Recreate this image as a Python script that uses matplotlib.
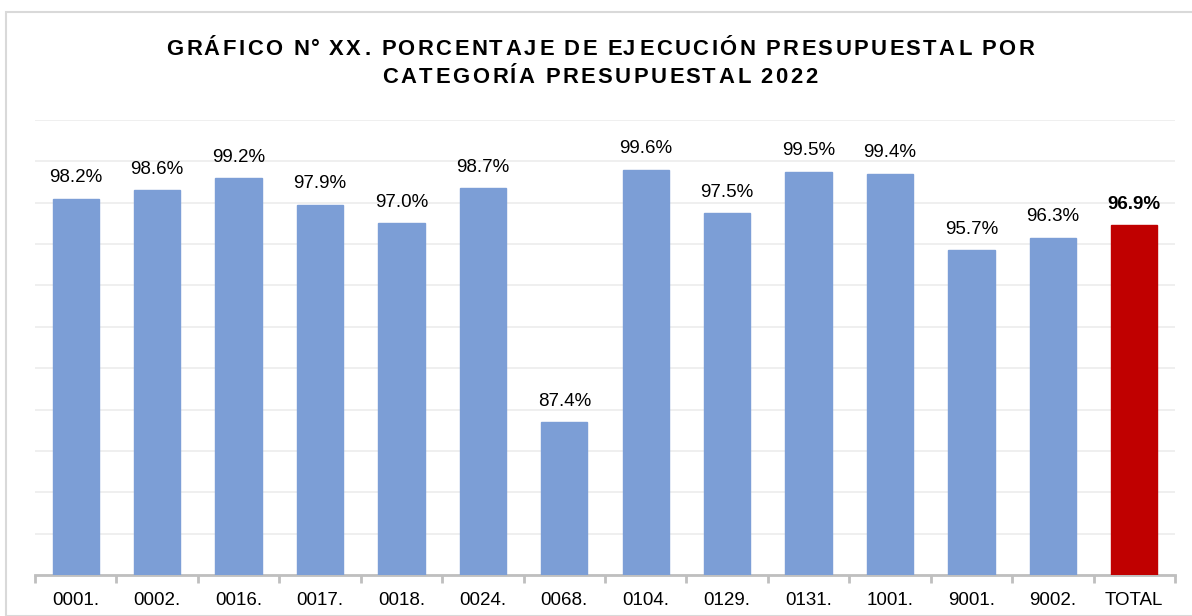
import matplotlib.pyplot as plt
from matplotlib import font_manager, ft2font
from matplotlib.patches import Rectangle

# datos
categorias = ["0001.", "0002.", "0016.", "0017.", "0018.", "0024.", "0068.",
              "0104.", "0129.", "0131.", "1001.", "9001.", "9002.", "TOTAL"]
ejecucion = [98.2, 98.6, 99.2, 97.9, 97.0, 98.7, 87.4,
             99.6, 97.5, 99.5, 99.4, 95.7, 96.3, 96.9]
titulo = ["GRÁFICO N° XX. PORCENTAJE DE EJECUCIÓN PRESUPUESTAL POR",
          "CATEGORÍA PRESUPUESTAL 2022"]

plt.rcParams['font.family'] = ['Liberation Sans', 'DejaVu Sans']

W, H = 1192, 616
fig = plt.figure(figsize=(W / 100, H / 100), dpi=100)
ax = fig.add_axes([35/W, 1 - 575/H, 1140/W, 455/H])

colores = ["#7C9ED6"] * (len(categorias) - 1) + ["#C00000"]
x = range(len(categorias))
ax.bar(x, ejecucion, width=0.57, color=colores, edgecolor=colores, zorder=3)

ax.set_ylim(80, 102)
ax.set_xlim(-0.5, len(categorias) - 0.5)
ax.set_yticks(range(80, 103, 2))
ax.yaxis.grid(True, color="#ECECEC", linewidth=1.2, zorder=0)
ax.tick_params(axis="y", left=False, labelleft=False)
for s in ["top", "right", "left"]:
    ax.spines[s].set_visible(False)
ax.spines["bottom"].set_color("#BFBFBF")
ax.spines["bottom"].set_linewidth(2)

ax.set_xticks([i - 0.5 for i in range(len(categorias) + 1)], minor=False)
ax.set_xticklabels([])
ax.set_xticks(list(x), minor=True)
ax.set_xticklabels(categorias, minor=True, fontsize=13.5)
ax.tick_params(axis="x", which="major", length=6, width=2, color="#BFBFBF")
ax.tick_params(axis="x", which="minor", length=0, pad=12)

for i, v in enumerate(ejecucion):
    peso = "bold" if categorias[i] == "TOTAL" else "normal"
    ax.text(i, v + 0.6, f"{v:.1f}%", ha="center", va="bottom",
            fontsize=13.5, fontweight=peso, color="#000000")

# titulo con espaciado entre letras (avances de la fuente)
fs_tit = 15.8
track = 2.5
menos_espacio = 1.0
fp = font_manager.FontProperties(family="Liberation Sans", weight="bold")
fuente = ft2font.FT2Font(font_manager.findfont(fp))
fuente.set_size(fs_tit, 100)


def metrica(c):
    g = fuente.load_char(ord(c))
    return g.linearHoriAdvance / 65536, g.horiBearingX / 64


for k, linea in enumerate(titulo):
    avances = []
    for c in linea:
        a, _ = metrica(c)
        if c == " ":
            a -= menos_espacio
        avances.append(a + track)
    total = sum(avances) - track
    x0 = 599 - total / 2
    y_base = 55 + 28 * k
    pos = x0
    for c, a in zip(linea, avances):
        if c != " ":
            _, lsb = metrica(c)
            fig.text((pos + lsb) / W, 1 - y_base / H, c, fontsize=fs_tit,
                     fontweight="bold", ha="left", va="baseline")
        pos += a

fig.patches.append(Rectangle((6/W, 0), 1.2, 1 - 12/H, transform=fig.transFigure,
                             fill=False, edgecolor="#D9D9D9", linewidth=1.5))

plt.savefig("out.png", dpi=100)
